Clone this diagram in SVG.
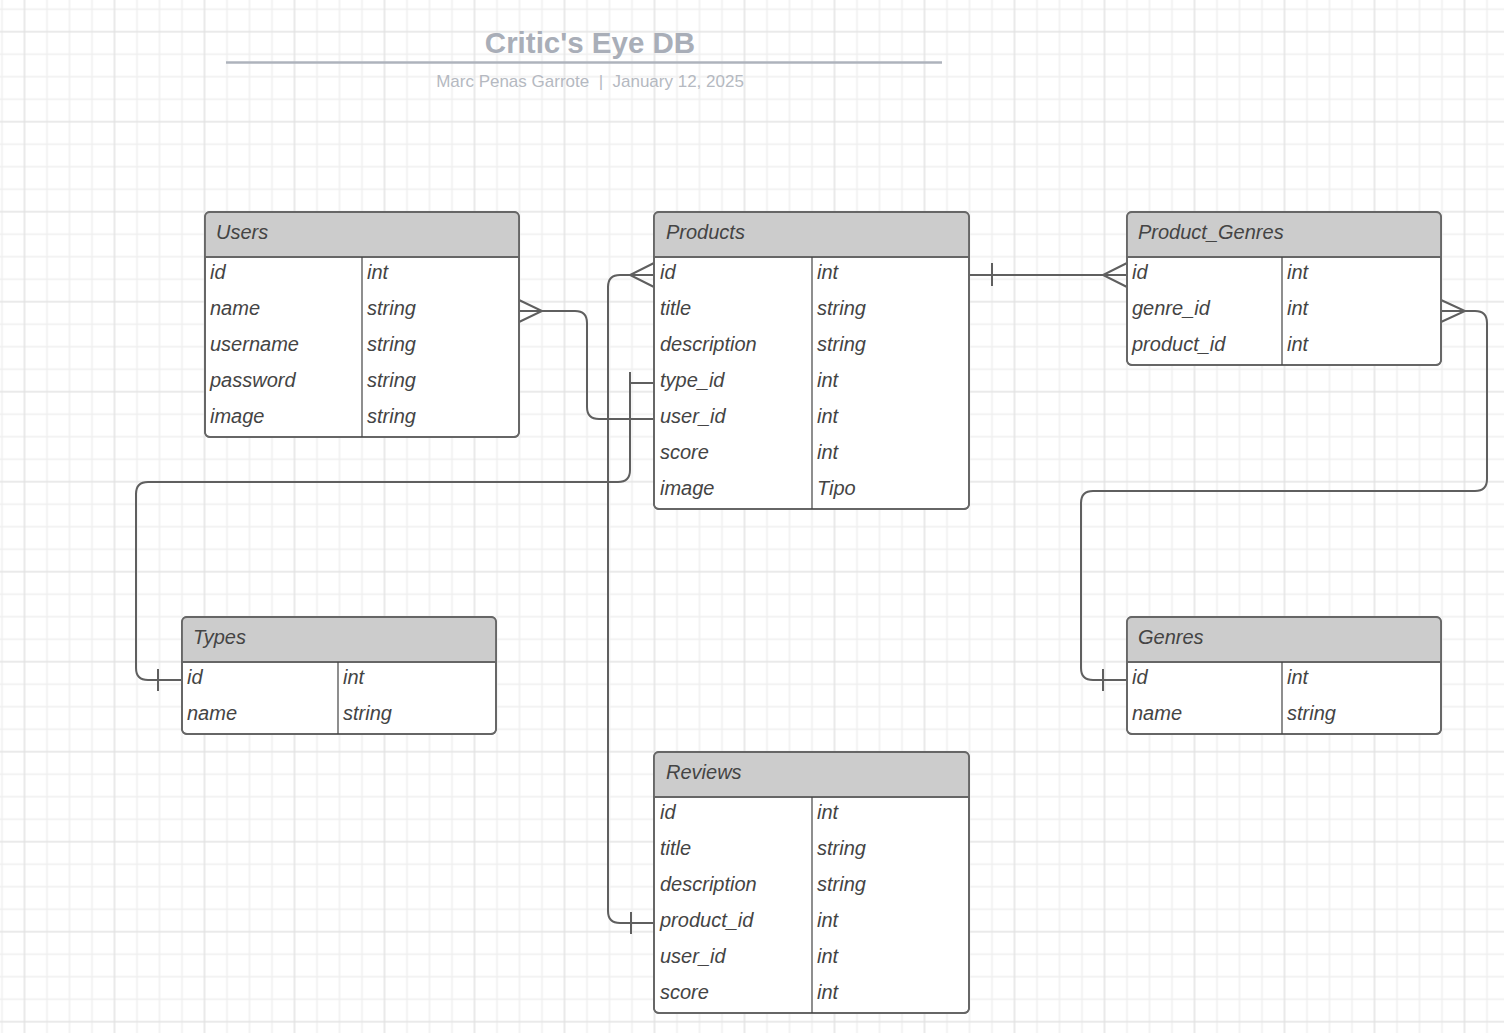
<svg xmlns="http://www.w3.org/2000/svg" width="1504" height="1033" viewBox="0 0 1504 1033">
<defs>
<pattern id="grid" patternUnits="userSpaceOnUse" x="13.5" y="20.7" width="90" height="90">
<path d="M33.5,0V90M56,0V90M78.5,0V90M0,33.5H90M0,56H90M0,78.5H90" stroke="#efefef" stroke-width="1.5" fill="none"/>
<path d="M11,0V90M0,11H90" stroke="#e3e3e3" stroke-width="1.5" fill="none"/>
</pattern>
<style>
.box{fill:#fff;stroke:#666;stroke-width:1.8}
.out{fill:none;stroke:#666;stroke-width:1.8}
.hd{fill:#cccccc}
.ln{stroke:#666;stroke-width:1.8}
.dv{stroke:#444;stroke-width:1.2}
.t{font-family:"Liberation Sans",Arial,sans-serif;font-style:italic;font-size:20px;fill:#444}
.cn{fill:none;stroke:#5f5f5f;stroke-width:2}
.ttl{font-family:"Liberation Sans",Arial,sans-serif;font-weight:bold;font-size:29.5px;fill:#a9aeb8}
.sub{font-family:"Liberation Sans",Arial,sans-serif;font-size:17px;fill:#b5b9c1}
</style>
</defs>
<rect width="1504" height="1033" fill="#ffffff"/>
<rect width="1504" height="1033" fill="url(#grid)"/>

<g id="title">
<text class="ttl" x="590" y="52.5" text-anchor="middle">Critic's Eye DB</text>
<line x1="226" y1="62.5" x2="942" y2="62.5" stroke="#aeb3bc" stroke-width="2.5"/>
<text class="sub" x="590" y="86.5" text-anchor="middle">Marc Penas Garrote&#160; |&#160; January 12, 2025</text>
</g>

<g id="connectors">
<!-- Users.name -> Products.user_id -->
<path class="cn" d="M519,311 H575 Q587,311 587,323 V407 Q587,419 599,419 H654"/>
<path class="cn" d="M519,300 L542,311 L519,322"/>
<path class="cn" d="M630,408 V430"/>
<!-- Products.type_id -> Types.id -->
<path class="cn" d="M654,383 H630 V470 Q630,482 618,482 H148 Q136,482 136,494 V668 Q136,680 148,680 H182"/>
<path class="cn" d="M630,372 V394"/>
<path class="cn" d="M158,669 V691"/>
<!-- Reviews.product_id -> Products.id -->
<path class="cn" d="M654,923 H620 Q608,923 608,911 V287 Q608,275 620,275 H654"/>
<path class="cn" d="M654,263 L630,275 L654,287"/>
<path class="cn" d="M631,912 V934"/>
<!-- Products.id -> Product_Genres.id -->
<path class="cn" d="M969,275 H1127"/>
<path class="cn" d="M992,263 V286"/>
<path class="cn" d="M1127,263 L1103,275 L1127,287"/>
<!-- Product_Genres.genre_id -> Genres.id -->
<path class="cn" d="M1441,311 H1475 Q1487,311 1487,323 V479 Q1487,491 1475,491 H1093 Q1081,491 1081,503 V668 Q1081,680 1093,680 H1127"/>
<path class="cn" d="M1441,300 L1465,311 L1441,322"/>
<path class="cn" d="M1103,669 V691"/>
</g>

<g id="users">
<rect class="box" x="205" y="212" width="314" height="225" rx="5"/>
<path class="hd" d="M205,257 V217 Q205,212 210,212 H514 Q519,212 519,217 V257 Z"/>
<rect class="out" x="205" y="212" width="314" height="225" rx="5"/>
<line class="ln" x1="205" y1="257" x2="519" y2="257"/>
<line class="dv" x1="362" y1="257" x2="362" y2="437"/>
<text class="t" x="216" y="238.5">Users</text>
<text class="t" x="210" y="279">id</text><text class="t" x="367" y="279">int</text>
<text class="t" x="210" y="315">name</text><text class="t" x="367" y="315">string</text>
<text class="t" x="210" y="351">username</text><text class="t" x="367" y="351">string</text>
<text class="t" x="210" y="387">password</text><text class="t" x="367" y="387">string</text>
<text class="t" x="210" y="423">image</text><text class="t" x="367" y="423">string</text>
</g>

<g id="products">
<rect class="box" x="654" y="212" width="315" height="297" rx="5"/>
<path class="hd" d="M654,257 V217 Q654,212 659,212 H964 Q969,212 969,217 V257 Z"/>
<rect class="out" x="654" y="212" width="315" height="297" rx="5"/>
<line class="ln" x1="654" y1="257" x2="969" y2="257"/>
<line class="dv" x1="812" y1="257" x2="812" y2="509"/>
<text class="t" x="666" y="238.5">Products</text>
<text class="t" x="660" y="279">id</text><text class="t" x="817" y="279">int</text>
<text class="t" x="660" y="315">title</text><text class="t" x="817" y="315">string</text>
<text class="t" x="660" y="351">description</text><text class="t" x="817" y="351">string</text>
<text class="t" x="660" y="387">type_id</text><text class="t" x="817" y="387">int</text>
<text class="t" x="660" y="423">user_id</text><text class="t" x="817" y="423">int</text>
<text class="t" x="660" y="459">score</text><text class="t" x="817" y="459">int</text>
<text class="t" x="660" y="495">image</text><text class="t" x="817" y="495">Tipo</text>
</g>

<g id="product_genres">
<rect class="box" x="1127" y="212" width="314" height="153" rx="5"/>
<path class="hd" d="M1127,257 V217 Q1127,212 1132,212 H1436 Q1441,212 1441,217 V257 Z"/>
<rect class="out" x="1127" y="212" width="314" height="153" rx="5"/>
<line class="ln" x1="1127" y1="257" x2="1441" y2="257"/>
<line class="dv" x1="1282" y1="257" x2="1282" y2="365"/>
<text class="t" x="1138" y="238.5">Product_Genres</text>
<text class="t" x="1132" y="279">id</text><text class="t" x="1287" y="279">int</text>
<text class="t" x="1132" y="315">genre_id</text><text class="t" x="1287" y="315">int</text>
<text class="t" x="1132" y="351">product_id</text><text class="t" x="1287" y="351">int</text>
</g>

<g id="types">
<rect class="box" x="182" y="617" width="314" height="117" rx="5"/>
<path class="hd" d="M182,662 V622 Q182,617 187,617 H491 Q496,617 496,622 V662 Z"/>
<rect class="out" x="182" y="617" width="314" height="117" rx="5"/>
<line class="ln" x1="182" y1="662" x2="496" y2="662"/>
<line class="dv" x1="338" y1="662" x2="338" y2="734"/>
<text class="t" x="193" y="643.5">Types</text>
<text class="t" x="187" y="684">id</text><text class="t" x="343" y="684">int</text>
<text class="t" x="187" y="720">name</text><text class="t" x="343" y="720">string</text>
</g>

<g id="genres">
<rect class="box" x="1127" y="617" width="314" height="117" rx="5"/>
<path class="hd" d="M1127,662 V622 Q1127,617 1132,617 H1436 Q1441,617 1441,622 V662 Z"/>
<rect class="out" x="1127" y="617" width="314" height="117" rx="5"/>
<line class="ln" x1="1127" y1="662" x2="1441" y2="662"/>
<line class="dv" x1="1282" y1="662" x2="1282" y2="734"/>
<text class="t" x="1138" y="643.5">Genres</text>
<text class="t" x="1132" y="684">id</text><text class="t" x="1287" y="684">int</text>
<text class="t" x="1132" y="720">name</text><text class="t" x="1287" y="720">string</text>
</g>

<g id="reviews">
<rect class="box" x="654" y="752" width="315" height="261" rx="5"/>
<path class="hd" d="M654,797 V757 Q654,752 659,752 H964 Q969,752 969,757 V797 Z"/>
<rect class="out" x="654" y="752" width="315" height="261" rx="5"/>
<line class="ln" x1="654" y1="797" x2="969" y2="797"/>
<line class="dv" x1="812" y1="797" x2="812" y2="1013"/>
<text class="t" x="666" y="778.5">Reviews</text>
<text class="t" x="660" y="819">id</text><text class="t" x="817" y="819">int</text>
<text class="t" x="660" y="855">title</text><text class="t" x="817" y="855">string</text>
<text class="t" x="660" y="891">description</text><text class="t" x="817" y="891">string</text>
<text class="t" x="660" y="927">product_id</text><text class="t" x="817" y="927">int</text>
<text class="t" x="660" y="963">user_id</text><text class="t" x="817" y="963">int</text>
<text class="t" x="660" y="999">score</text><text class="t" x="817" y="999">int</text>
</g>
</svg>
